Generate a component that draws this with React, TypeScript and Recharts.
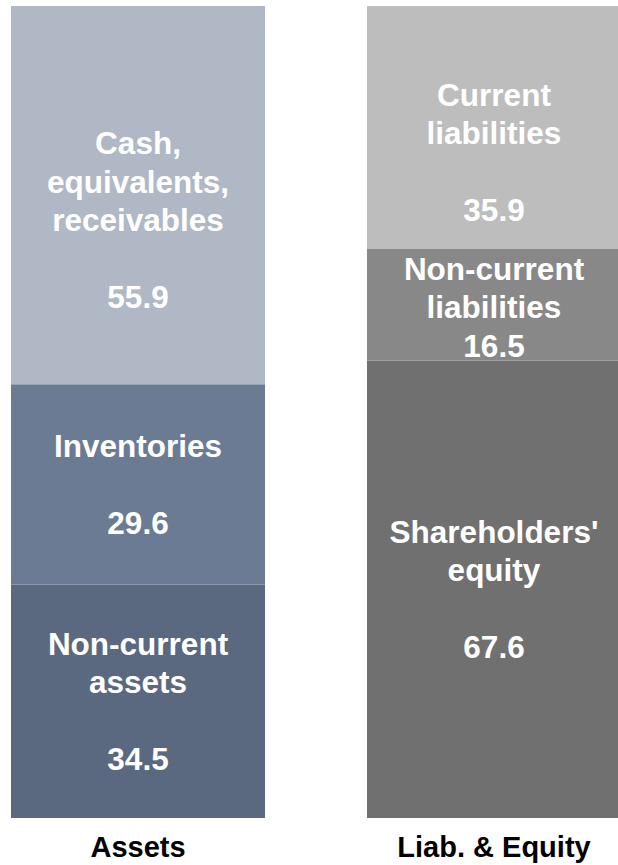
import { BarChart, Bar, XAxis, YAxis, LabelList } from "recharts";

const CATEGORIES = ["Assets", "Liab. & Equity"];

// assets, bottom to top
const NON_CURRENT_ASSETS = [34.5, null];
const INVENTORIES = [29.6, null];
const CASH = [55.9, null];

// liabilities & equity, bottom to top
const EQUITY = [null, 67.6];
const NON_CURRENT_LIAB = [null, 16.5];
const CURRENT_LIAB = [null, 35.9];

const DATA = CATEGORIES.map((name, i) => ({
  name,
  nca: NON_CURRENT_ASSETS[i],
  inv: INVENTORIES[i],
  cash: CASH[i],
  eq: EQUITY[i],
  ncl: NON_CURRENT_LIAB[i],
  cl: CURRENT_LIAB[i],
}));

const FONT = '"Liberation Sans", Arial, Helvetica, sans-serif';
const FS = 31.5;
const LH = 38.5;

function makeLabel(title: string[], gap: boolean, shift: number) {
  return (props: any) => {
    const { x, y, width, height, value } = props;
    if (value == null || !height) return null;
    const lines = [...title, ...(gap ? [""] : []), Number(value).toFixed(1)];
    const cx = Number(x) + Number(width) / 2;
    const cy = Number(y) + Number(height) / 2 + shift;
    const n = lines.length;
    return (
      <text
        textAnchor="middle"
        fill="#ffffff"
        fontFamily={FONT}
        fontWeight="bold"
        fontSize={FS}
      >
        {lines.map((t, k) =>
          t ? (
            <tspan key={k} x={cx} y={cy + (k - (n - 1) / 2) * LH + FS * 0.358}>
              {t}
            </tspan>
          ) : null
        )}
      </text>
    );
  };
}

const CategoryTick = (props: any) => {
  const { x, y, payload } = props;
  return (
    <text
      x={x}
      y={y + 39}
      textAnchor="middle"
      fill="#000000"
      fontFamily={FONT}
      fontWeight="bold"
      fontSize={29}
    >
      {payload.value}
    </text>
  );
};

export default function App() {
  return (
    <div
      style={{
        position: "absolute",
        left: 0,
        top: 0,
        width: 618,
        height: 865,
        overflow: "hidden",
        background: "#ffffff",
      }}
    >
      <div style={{ position: "relative", left: -40 }}>
        <BarChart
          width={712}
          height={865}
          data={DATA}
          margin={{ top: 6, right: 0, left: 0, bottom: 0 }}
          barSize={254}
        >
          <XAxis
            dataKey="name"
            axisLine={false}
            tickLine={false}
            tickSize={0}
            tickMargin={0}
            height={47}
            interval={0}
            tick={<CategoryTick />}
          />
          <YAxis hide domain={[0, 120]} />

          <Bar dataKey="nca" stackId="s" fill="#5A6880" isAnimationActive={false}>
            <LabelList dataKey="nca" content={makeLabel(["Non-current", "assets"], true, 0)} />
          </Bar>
          <Bar dataKey="inv" stackId="s" fill="#6B7B94" isAnimationActive={false}>
            <LabelList dataKey="inv" content={makeLabel(["Inventories"], true, 0)} />
          </Bar>
          <Bar dataKey="cash" stackId="s" fill="#B1B8C5" isAnimationActive={false}>
            <LabelList
              dataKey="cash"
              content={makeLabel(["Cash,", "equivalents,", "receivables"], true, 25)}
            />
          </Bar>
          <Bar dataKey="eq" stackId="s" fill="#707070" isAnimationActive={false}>
            <LabelList dataKey="eq" content={makeLabel(["Shareholders'", "equity"], true, 0)} />
          </Bar>
          <Bar dataKey="ncl" stackId="s" fill="#888888" isAnimationActive={false}>
            <LabelList
              dataKey="ncl"
              content={makeLabel(["Non-current", "liabilities"], false, 2)}
            />
          </Bar>
          <Bar dataKey="cl" stackId="s" fill="#BDBDBD" isAnimationActive={false}>
            <LabelList
              dataKey="cl"
              content={makeLabel(["Current", "liabilities"], true, 25)}
            />
          </Bar>
        </BarChart>
      </div>
    </div>
  );
}
